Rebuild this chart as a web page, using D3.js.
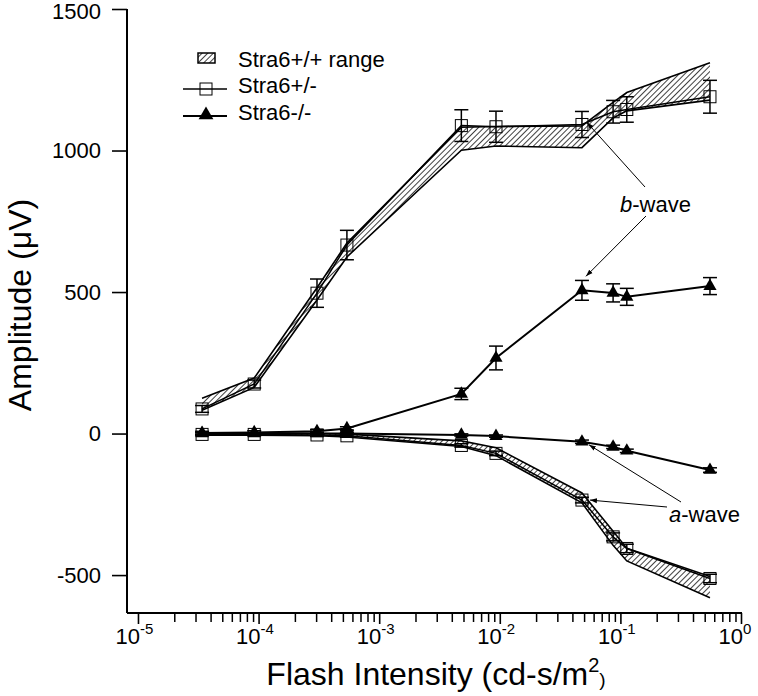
<!DOCTYPE html>
<html><head><meta charset="utf-8">
<script src="https://cdn.jsdelivr.net/npm/d3@7/dist/d3.min.js"></script>
<style>body{margin:0;background:#fff}svg{display:block}text{font-family:Arial,"Liberation Sans",sans-serif;fill:#000}</style>
</head><body><svg id="c" width="758" height="696"></svg>
<script>
// ---- data ----
const intensities = [3.4e-5, 9.2e-5, 3.05e-4, 5.4e-4, 4.8e-3, 9.3e-3, 0.048, 0.087, 0.113, 0.553];
const hetB    = [87, 175, 496, 666, 1088, 1084, 1092, 1137, 1145, 1190];
const hetBErr = [12, 14, 50, 52, 56, 55, 46, 40, 45, 58];
const koB     = [2, 4, 8, 18, 140, 267, 506, 497, 483, 521];
const koBErr  = [6, 6, 6, 6, 20, 42, 35, 32, 30, 30];
const hetA    = [-3, -3, -5, -8, -42, -70, -235, -365, -406, -512];
const hetAErr = [5, 5, 5, 5, 6, 8, 10, 14, 15, 15];
const koA     = [0, 0, 0, 0, -5, -9, -29, -47, -61, -129];
const koAErr  = [4, 4, 4, 4, 4, 4, 6, 6, 6, 8];
const wtBHi   = [125, 196, 515, 673, 1082, 1085, 1087, 1170, 1205, 1310];
const wtBLo   = [82, 163, 472, 624, 1001, 1016, 1010, 1115, 1140, 1178];
const wtAHi   = [2, 2, 0, -2, -26, -50, -210, -345, -405, -505];
const wtALo   = [-6, -6, -8, -12, -46, -78, -245, -395, -450, -580];
const yTicks  = [-500, 0, 500, 1000, 1500];
const xDecades = [-5, -4, -3, -2, -1, 0];
const legendLabels = ["Stra6+/+ range", "Stra6+/-", "Stra6-/-"];

const svg = d3.select("#c");
const L = 127, R = 741, T = 9, B = 613;
const x = d3.scaleLog().domain([Math.pow(10, -5.091), 1]).range([L, R]);
const y = d3.scaleLinear().domain([-634, 1500]).range([B, T]);
const FONT = "Arial, 'Liberation Sans', sans-serif";

const defs = svg.append("defs");
const pat = defs.append("pattern").attr("id", "hatch").attr("patternUnits", "userSpaceOnUse")
  .attr("width", 4).attr("height", 4).attr("patternTransform", "rotate(45)");
pat.append("rect").attr("width", 4).attr("height", 4).attr("fill", "#fff");
pat.append("line").attr("x1", 0).attr("y1", 0).attr("x2", 0).attr("y2", 4).attr("stroke", "#000").attr("stroke-width", 1.5);
defs.append("marker").attr("id", "arr").attr("viewBox", "0 0 10 10").attr("refX", 10).attr("refY", 5)
  .attr("markerWidth", 7).attr("markerHeight", 7).attr("orient", "auto")
  .append("path").attr("d", "M0,1.5L10,5L0,8.5Z").attr("fill", "#000");

// ---- bands ----
function band(hi, lo) {
  const d = intensities.map((v, i) => ({ x: v, hi: hi[i], lo: lo[i] }));
  svg.append("path").datum(d)
    .attr("d", d3.area().x(p => x(p.x)).y0(p => y(p.lo)).y1(p => y(p.hi)))
    .attr("fill", "url(#hatch)");
  [hi, lo].forEach(arr => {
    svg.append("path").datum(intensities.map((v, i) => [v, arr[i]]))
      .attr("d", d3.line().x(p => x(p[0])).y(p => y(p[1])))
      .attr("fill", "none").attr("stroke", "#000").attr("stroke-width", 1.6);
  });
}
band(wtBHi, wtBLo);
band(wtAHi, wtALo);

// ---- series ----
function series(vals, errs, kind) {
  const pts = intensities.map((v, i) => ({ x: v, y: vals[i], e: errs[i] }));
  svg.append("path").datum(pts)
    .attr("d", d3.line().x(p => x(p.x)).y(p => y(p.y)))
    .attr("fill", "none").attr("stroke", "#000").attr("stroke-width", kind === "sq" ? 1.5 : 2);
  const g = svg.append("g");
  pts.forEach(p => {
    const cx = x(p.x), y1 = y(p.y + p.e), y2 = y(p.y - p.e);
    g.append("line").attr("x1", cx).attr("x2", cx).attr("y1", y1).attr("y2", y2).attr("stroke", "#000").attr("stroke-width", 1.5);
    [y1, y2].forEach(yy => g.append("line").attr("x1", cx - 7).attr("x2", cx + 7).attr("y1", yy).attr("y2", yy).attr("stroke", "#000").attr("stroke-width", 1.5));
  });
  pts.forEach(p => {
    const cx = x(p.x), cy = y(p.y);
    if (kind === "sq") {
      g.append("rect").attr("x", cx - 6).attr("y", cy - 6).attr("width", 12).attr("height", 12)
        .attr("fill", "none").attr("stroke", "#000").attr("stroke-width", 1);
    } else {
      g.append("path").attr("transform", `translate(${cx},${cy})`)
        .attr("d", d3.symbol(d3.symbolTriangle, 75)()).attr("fill", "#000");
    }
  });
}
series(hetB, hetBErr, "sq");
series(hetA, hetAErr, "sq");
series(koB, koBErr, "tri");
series(koA, koAErr, "tri");

// ---- axes ----
const yAxis = svg.append("g").attr("transform", `translate(${L},0)`)
  .call(d3.axisLeft(y).tickValues(yTicks).tickSize(15).tickPadding(11).tickFormat(d => String(d)));
yAxis.select(".domain").attr("d", `M0,${T}V${B}`).attr("stroke-width", 2);
yAxis.selectAll(".tick line").attr("stroke-width", 1.6);
yAxis.selectAll(".tick text").attr("font-size", 22).style("font-family", FONT)
  .attr("dy", d => d === 1500 ? "0.45em" : "0.32em");

const minor = [];
xDecades.slice(0, -1).forEach(d => { for (let k = 2; k <= 9; k++) minor.push(k * Math.pow(10, d)); });
const xMinor = svg.append("g").attr("transform", `translate(0,${B})`)
  .call(d3.axisBottom(x).tickValues(minor).tickSize(9).tickFormat(""));
xMinor.select(".domain").remove();
xMinor.selectAll(".tick line").attr("stroke-width", 1.5);
const majors = xDecades.map(d => Math.pow(10, d));
const xAxis = svg.append("g").attr("transform", `translate(0,${B})`)
  .call(d3.axisBottom(x).tickValues(majors).tickSize(11).tickFormat(""));
xAxis.select(".domain").attr("d", `M${L},0H${R + 1}`).attr("stroke-width", 2);
xAxis.selectAll(".tick line").attr("stroke-width", 1.6);
xAxis.selectAll(".tick").each(function (d, i) {
  const t = d3.select(this).append("text").attr("x", -23).attr("y", 31).attr("text-anchor", "start")
    .attr("font-size", 22).style("font-family", FONT).attr("fill", "#000");
  t.append("tspan").text("10");
  t.append("tspan").attr("dy", -10).attr("font-size", 15).text(xDecades[i]);
});

// ---- axis titles ----
const xt = svg.append("text").attr("x", 436).attr("y", 685).attr("text-anchor", "middle").attr("font-size", 32);
xt.append("tspan").text("Flash Intensity (cd-s/m");
xt.append("tspan").attr("dy", -13).attr("font-size", 20).text("2");
xt.append("tspan").attr("dy", 14).attr("font-size", 19).text(")");
const yt = svg.append("text").attr("transform", "translate(31,305) rotate(-90)").attr("text-anchor", "middle").attr("font-size", 32);
yt.text("Amplitude (\u03BCV)");

// ---- legend ----
const lg = svg.append("g");
const ly = [58, 89, 116];
lg.append("rect").attr("x", 198).attr("y", ly[0] - 5).attr("width", 17).attr("height", 10)
  .attr("fill", "url(#hatch)").attr("stroke", "#000").attr("stroke-width", 1.5);
lg.append("line").attr("x1", 183).attr("x2", 227).attr("y1", ly[1]).attr("y2", ly[1]).attr("stroke", "#000").attr("stroke-width", 1.5);
lg.append("rect").attr("x", 200).attr("y", ly[1] - 6).attr("width", 12).attr("height", 12).attr("fill", "none").attr("stroke", "#000");
lg.append("line").attr("x1", 183).attr("x2", 227).attr("y1", ly[2]).attr("y2", ly[2]).attr("stroke", "#000").attr("stroke-width", 2);
lg.append("path").attr("transform", `translate(206,${ly[2] - 1})`).attr("d", d3.symbol(d3.symbolTriangle, 95)()).attr("fill", "#000");
const lb = [67, 93, 120];
legendLabels.forEach((s, i) => lg.append("text").attr("x", 238).attr("y", lb[i]).attr("font-size", 22).text(s));

// ---- annotations ----
function arrow(x1, y1, x2, y2) {
  svg.append("line").attr("x1", x1).attr("y1", y1).attr("x2", x2).attr("y2", y2)
    .attr("stroke", "#000").attr("stroke-width", 1).attr("marker-end", "url(#arr)");
}
const bt = svg.append("text").attr("x", 620).attr("y", 212).attr("font-size", 22);
bt.append("tspan").attr("font-style", "italic").text("b");
bt.append("tspan").text("-wave");
arrow(645, 187, x(intensities[6]) + 5, y(hetB[6]) - 2);
arrow(646, 216, x(intensities[6]) + 4, y(koB[6]) - 14);
const at = svg.append("text").attr("x", 669).attr("y", 522).attr("font-size", 22);
at.append("tspan").attr("font-style", "italic").text("a");
at.append("tspan").text("-wave");
arrow(681, 502, x(intensities[6]) + 7, y(koA[6]) + 3);
arrow(667, 507, x(intensities[6]) + 8, y(hetA[6]));
</script></body></html>
